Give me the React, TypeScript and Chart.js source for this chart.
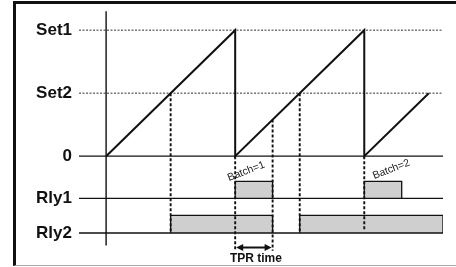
import React, { useEffect, useRef } from "react";
import { Chart, registerables } from "chart.js";

Chart.register(...registerables);

// ---- data ----
const levelLabels = ["Set1", "Set2", "0", "Rly1", "Rly2"];
const levelValues = [2, 1, 0, -0.67, -1.22];
const rampX = [0, 1, 1, 2, 2, 2.5];
const rampY = [0, 2, 0, 2, 0, 1];
const rly1Start = [1, 2];
const rly1End = [1.29, 2.29];
const rly1High = -0.4;
const rly2Start = [0.5, 1.5];
const rly2End = [1.29, 2.61];
const rly2High = -0.94;
const batchLabels = ["Batch=1", "Batch=2"];
const tprStart = 1;
const tprEnd = 1.29;
const tprLevel = -1.45;
const tprLabel = "TPR time";
const guideX = [0.5, 1, 1.29, 1.5, 2];
const guideTop = [1, 0, 0.58, 1, 0];
const guideBottom = [-1.22, -1.5, -1.5, -1.22, -1.16];
const axisTop = 2.3;
const axisBottom = -1.42;
const timeMin = -0.21;
const timeMax = 2.61;

const INK = "#111";
const FILL = "#cfcfcf";
const FONT = '"Liberation Sans", Arial, Helvetica, sans-serif';

const annotPlugin = {
  id: "annot",
  afterDatasetsDraw(chart: any) {
    const { ctx, scales } = chart;
    const xs = scales.x;
    const ys = scales.y;
    ctx.save();
    // Batch labels
    const offs = [
      [11, -10],
      [27, -12],
    ];
    ctx.font = `10.5px ${FONT}`;
    ctx.fillStyle = "#222";
    ctx.textAlign = "center";
    ctx.textBaseline = "middle";
    batchLabels.forEach((t, i) => {
      const px = xs.getPixelForValue(rly1Start[i]) + offs[i][0];
      const py = ys.getPixelForValue(rly1High) + offs[i][1];
      ctx.save();
      ctx.translate(px, py);
      ctx.rotate((-21 * Math.PI) / 180);
      ctx.fillText(t, 0, 0);
      ctx.restore();
    });
    // TPR arrow
    const x1 = xs.getPixelForValue(tprStart);
    const x2 = xs.getPixelForValue(tprEnd);
    const ay = ys.getPixelForValue(tprLevel);
    ctx.strokeStyle = INK;
    ctx.fillStyle = INK;
    ctx.lineWidth = 2;
    ctx.beginPath();
    ctx.moveTo(x1 + 4, ay);
    ctx.lineTo(x2 - 4, ay);
    ctx.stroke();
    ctx.beginPath();
    ctx.moveTo(x1 + 1, ay);
    ctx.lineTo(x1 + 8, ay - 3.5);
    ctx.lineTo(x1 + 8, ay + 3.5);
    ctx.closePath();
    ctx.fill();
    ctx.beginPath();
    ctx.moveTo(x2 - 1, ay);
    ctx.lineTo(x2 - 8, ay - 3.5);
    ctx.lineTo(x2 - 8, ay + 3.5);
    ctx.closePath();
    ctx.fill();
    // TPR label
    ctx.font = `bold 12px ${FONT}`;
    ctx.textAlign = "center";
    ctx.textBaseline = "middle";
    ctx.fillText(tprLabel, (x1 + x2) / 2 + 2, ys.getPixelForValue(-1.63));
    ctx.restore();
  },
};

export default function App() {
  const ref = useRef<HTMLCanvasElement | null>(null);

  useEffect(() => {
    if (!ref.current) return;
    const datasets: any[] = [];
    const line = (pts: { x: number; y: number }[], extra: any = {}) => ({
      data: pts,
      borderColor: INK,
      borderWidth: 1.3,
      pointRadius: 0,
      fill: false,
      ...extra,
    });
    // dashed guides (drawn on top)
    guideX.forEach((x, i) => {
      datasets.push(
        line(
          [
            { x, y: guideTop[i] },
            { x, y: guideBottom[i] },
          ],
          { borderWidth: 1.9, borderDash: [3, 2] }
        )
      );
    });
    // sawtooth
    datasets.push(
      line(
        rampX.map((x, i) => ({ x, y: rampY[i] })),
        { borderWidth: 2 }
      )
    );
    // vertical axis
    datasets.push(
      line(
        [
          { x: 0, y: axisTop },
          { x: 0, y: axisBottom },
        ],
        { borderWidth: 1.4 }
      )
    );
    // baselines
    levelValues.forEach((v, i) => {
      const dotted = i < 2;
      datasets.push(
        line(
          [
            { x: timeMin, y: v },
            { x: timeMax, y: v },
          ],
          dotted
            ? { borderWidth: 1, borderDash: [2, 1.5], borderColor: "#333" }
            : { borderWidth: 1.3 }
        )
      );
    });
    // pulses
    const pulse = (a: number, b: number, base: number, top: number) =>
      line(
        [
          { x: a, y: base },
          { x: a, y: top },
          { x: b, y: top },
          { x: b, y: base },
        ],
        { fill: { value: base }, backgroundColor: FILL, borderWidth: 1.3 }
      );
    rly1Start.forEach((a, i) =>
      datasets.push(pulse(a, rly1End[i], levelValues[3], rly1High))
    );
    rly2Start.forEach((a, i) =>
      datasets.push(pulse(a, rly2End[i], levelValues[4], rly2High))
    );

    const chart = new Chart(ref.current, {
      type: "line",
      data: { datasets },
      options: {
        animation: false,
        responsive: false,
        maintainAspectRatio: false,
        parsing: false as any,
        layout: { padding: { left: 0, right: 13, top: 10, bottom: 5 } },
        plugins: { legend: { display: false }, tooltip: { enabled: false } },
        elements: { line: { tension: 0 } },
        scales: {
          x: { type: "linear", min: timeMin, max: timeMax, display: false },
          y: {
            type: "linear",
            min: -1.68,
            max: 2.32,
            afterBuildTicks: (s: any) => {
              s.ticks = levelValues.map((v) => ({ value: v }));
            },
            afterFit: (s: any) => {
              s.width = 79;
              s.paddingTop = 0;
              s.paddingBottom = 0;
            },
            grid: { display: false, drawTicks: false },
            border: { display: false },
            ticks: {
              autoSkip: false,
              padding: 7,
              color: "#111",
              font: { family: FONT, size: 17, weight: "bold" },
              callback: (v: any) => {
                const i = levelValues.indexOf(Number(v));
                return i >= 0 ? levelLabels[i] : "";
              },
            },
          },
        },
      },
      plugins: [annotPlugin],
    });
    return () => chart.destroy();
  }, []);

  return (
    <div style={{ position: "absolute", left: 0, top: 0, width: 456, height: 267, background: "#fff" }}>
      <div
        style={{
          position: "absolute",
          left: 13,
          top: 1,
          width: 443,
          height: 265,
          boxSizing: "border-box",
          borderTop: "3px solid #111",
          borderLeft: "3px solid #111",
          borderBottom: "1px solid #aaa",
        }}
      />
      <canvas
        ref={ref}
        width={456}
        height={267}
        style={{ position: "absolute", left: 0, top: 0, width: 456, height: 267 }}
      />
    </div>
  );
}
